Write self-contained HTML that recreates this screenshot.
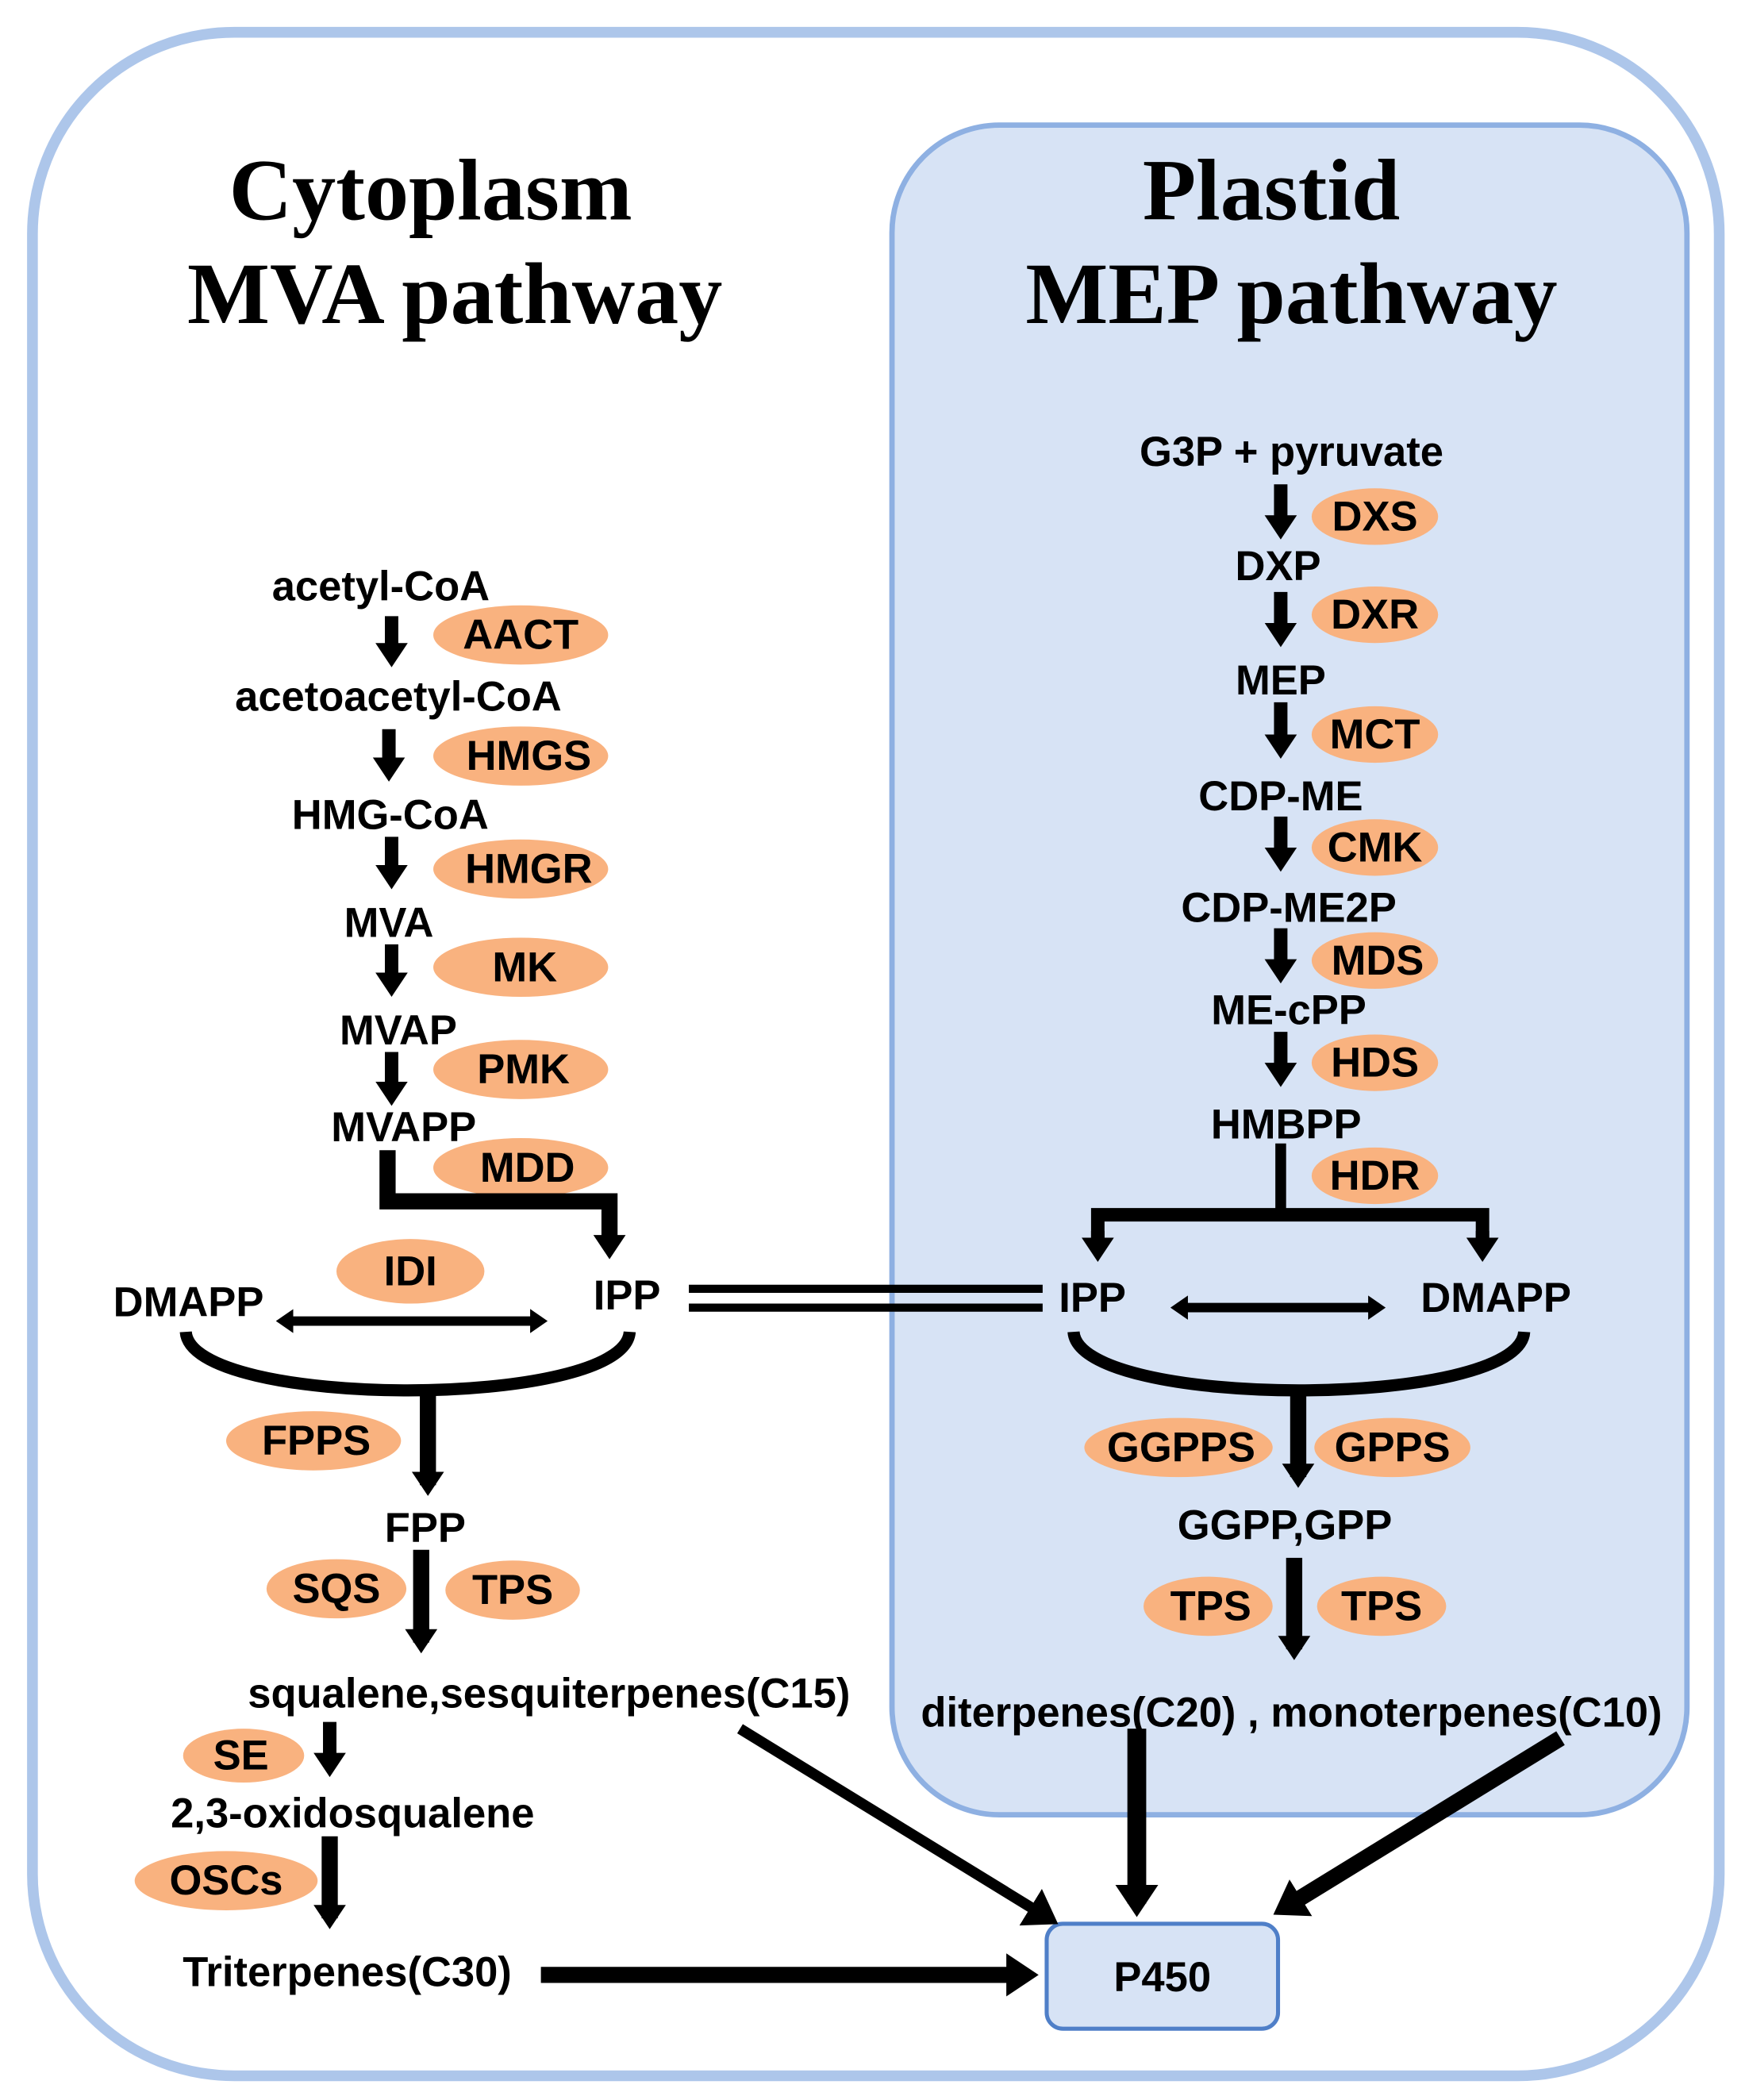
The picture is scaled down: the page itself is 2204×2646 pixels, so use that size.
<!DOCTYPE html>
<html><head><meta charset="utf-8"><style>html,body{margin:0;padding:0;background:#fff}svg{display:block}</style></head><body>
<svg width="2204" height="2646" viewBox="0 0 1300 1561" xmlns="http://www.w3.org/2000/svg">
<defs>
<marker id="h" markerUnits="userSpaceOnUse" markerWidth="26" markerHeight="28" refX="10" refY="14" orient="auto"><path d="M0,2 L18,14 L0,26 Z" fill="#000"/></marker>
<marker id="hb" markerUnits="userSpaceOnUse" markerWidth="34" markerHeight="36" refX="14" refY="18" orient="auto"><path d="M0,2 L24,18 L0,34 Z" fill="#000"/></marker>
<marker id="hs" markerUnits="userSpaceOnUse" markerWidth="18" markerHeight="22" refX="8" refY="11" orient="auto"><path d="M0,2 L13,11 L0,20 Z" fill="#000"/></marker>
<marker id="hsr" markerUnits="userSpaceOnUse" markerWidth="18" markerHeight="22" refX="8" refY="11" orient="auto-start-reverse"><path d="M0,2 L13,11 L0,20 Z" fill="#000"/></marker>
</defs>
<rect x="24" y="24" width="1254" height="1519" rx="150" fill="#fff" stroke="#adc6ea" stroke-width="8"/>
<rect x="663" y="93" width="591" height="1256" rx="80" fill="#d7e3f5" stroke="#8eb0e2" stroke-width="4"/>
<g font-family="'Liberation Serif',serif" font-weight="bold" font-size="65" text-anchor="middle" fill="#000">
<text x="320" y="163">Cytoplasm</text><text x="338" y="240">MVA pathway</text>
<text x="945" y="163">Plastid</text><text x="960" y="240">MEP pathway</text>
</g>
<g fill="#f9b27f">
<ellipse cx="387" cy="472" rx="65" ry="22"/><ellipse cx="387" cy="562" rx="65" ry="22"/><ellipse cx="387" cy="646" rx="65" ry="22"/>
<ellipse cx="387" cy="719" rx="65" ry="22"/><ellipse cx="387" cy="795" rx="65" ry="22"/><ellipse cx="387" cy="868" rx="65" ry="22"/>
<ellipse cx="305" cy="945" rx="55" ry="24"/><ellipse cx="233" cy="1071" rx="65" ry="22"/>
<ellipse cx="250" cy="1181" rx="52" ry="22"/><ellipse cx="381" cy="1182" rx="50" ry="22"/>
<ellipse cx="181" cy="1305" rx="45" ry="20"/><ellipse cx="168" cy="1398" rx="68" ry="22"/>
<ellipse cx="1022" cy="384" rx="47" ry="21"/><ellipse cx="1022" cy="457" rx="47" ry="21"/><ellipse cx="1022" cy="546" rx="47" ry="21"/>
<ellipse cx="1022" cy="630" rx="47" ry="21"/><ellipse cx="1022" cy="714" rx="47" ry="21"/><ellipse cx="1022" cy="790" rx="47" ry="21"/>
<ellipse cx="1022" cy="874" rx="47" ry="21"/>
<ellipse cx="876" cy="1076" rx="70" ry="22"/><ellipse cx="1035" cy="1076" rx="58" ry="22"/>
<ellipse cx="898" cy="1194" rx="48" ry="22"/><ellipse cx="1027" cy="1194" rx="48" ry="22"/>
</g>
<rect x="778" y="1430" width="172" height="78" rx="12" fill="#d7e3f5" stroke="#4f7fc8" stroke-width="3"/>
<g stroke="#000" fill="none">
<g stroke-width="10" marker-end="url(#h)">
<line x1="291" y1="458" x2="291" y2="488"/><line x1="289" y1="542" x2="289" y2="573"/><line x1="291" y1="622" x2="291" y2="653"/>
<line x1="291" y1="702" x2="291" y2="733"/><line x1="291" y1="782" x2="291" y2="814"/>
<line x1="952" y1="360" x2="952" y2="393"/><line x1="952" y1="440" x2="952" y2="473"/><line x1="952" y1="522" x2="952" y2="556"/>
<line x1="952" y1="607" x2="952" y2="640"/><line x1="952" y1="690" x2="952" y2="723"/><line x1="952" y1="767" x2="952" y2="800"/>
<line x1="245" y1="1280" x2="245" y2="1313"/>
</g>
<polyline points="288,855 288,893 453,893 453,925" stroke-width="12"/>
<line x1="453" y1="910" x2="453" y2="928" stroke-width="10" marker-end="url(#h)"/>
<line x1="952" y1="850" x2="952" y2="903" stroke-width="8"/>
<polyline points="816,930 816,903 1102,903 1102,930" stroke-width="10"/>
<line x1="816" y1="915" x2="816" y2="930" stroke-width="10" marker-end="url(#h)"/>
<line x1="1102" y1="915" x2="1102" y2="930" stroke-width="10" marker-end="url(#h)"/>
<line x1="210" y1="982" x2="402" y2="982" stroke-width="7" marker-start="url(#hsr)" marker-end="url(#hs)"/>
<line x1="875" y1="972" x2="1025" y2="972" stroke-width="7" marker-start="url(#hsr)" marker-end="url(#hs)"/>
<path d="M138,990 C142,1048 464,1048 468,990" stroke-width="9"/>
<path d="M798,990 C802,1048 1129,1048 1133,990" stroke-width="9"/>
<line x1="318" y1="1034" x2="318" y2="1104" stroke-width="12" marker-end="url(#h)"/>
<line x1="965" y1="1034" x2="965" y2="1098" stroke-width="12" marker-end="url(#h)"/>
<line x1="313" y1="1152" x2="313" y2="1221" stroke-width="12" marker-end="url(#h)"/>
<line x1="962" y1="1158" x2="962" y2="1226" stroke-width="12" marker-end="url(#h)"/>
<line x1="245" y1="1365" x2="245" y2="1426" stroke-width="12" marker-end="url(#h)"/>
<line x1="512" y1="958" x2="775" y2="958" stroke-width="6"/>
<line x1="512" y1="972" x2="775" y2="972" stroke-width="6"/>
<line x1="402" y1="1468" x2="762" y2="1468" stroke-width="12" marker-end="url(#hb)"/>
<line x1="550" y1="1285" x2="778" y2="1425" stroke-width="8" marker-end="url(#hb)"/>
<line x1="845" y1="1285" x2="845" y2="1415" stroke-width="14" marker-end="url(#hb)"/>
<line x1="1160" y1="1292" x2="955" y2="1418" stroke-width="12" marker-end="url(#hb)"/>
</g>
<g font-family="'Liberation Sans',Arial,sans-serif" font-weight="bold" font-size="31" text-anchor="middle" fill="#000" dominant-baseline="central">
<text x="283" y="436">acetyl-CoA</text><text x="296" y="518">acetoacetyl-CoA</text><text x="290" y="606">HMG-CoA</text>
<text x="289" y="686">MVA</text><text x="296" y="766">MVAP</text><text x="300" y="838">MVAPP</text>
<text x="140" y="968">DMAPP</text><text x="466" y="963">IPP</text>
<text x="316" y="1136">FPP</text><text x="408" y="1259">squalene,sesquiterpenes(C15)</text>
<text x="262" y="1348">2,3-oxidosqualene</text><text x="258" y="1466">Triterpenes(C30)</text>
<text x="387" y="472">AACT</text><text x="393" y="562">HMGS</text><text x="393" y="646">HMGR</text><text x="390" y="719">MK</text>
<text x="389" y="795">PMK</text><text x="392" y="868">MDD</text><text x="305" y="945">IDI</text><text x="235" y="1071">FPPS</text>
<text x="250" y="1181">SQS</text><text x="381" y="1182">TPS</text><text x="179" y="1305">SE</text><text x="168" y="1398">OSCs</text>
<text x="960" y="336">G3P + pyruvate</text><text x="950" y="421">DXP</text><text x="952" y="506">MEP</text>
<text x="952" y="592">CDP-ME</text><text x="958" y="675">CDP-ME2P</text><text x="958" y="751">ME-cPP</text><text x="956" y="836">HMBPP</text>
<text x="812" y="965">IPP</text><text x="1112" y="965">DMAPP</text><text x="955" y="1134">GGPP,GPP</text>
<text x="960" y="1273">diterpenes(C20) , monoterpenes(C10)</text>
<text x="1022" y="384">DXS</text><text x="1022" y="457">DXR</text><text x="1022" y="546">MCT</text><text x="1022" y="630">CMK</text>
<text x="1024" y="714">MDS</text><text x="1022" y="790">HDS</text><text x="1022" y="874">HDR</text>
<text x="878" y="1076">GGPPS</text><text x="1035" y="1076">GPPS</text><text x="900" y="1194">TPS</text><text x="1027" y="1194">TPS</text>
<text x="864" y="1470">P450</text>
</g>
</svg>
</body></html>
